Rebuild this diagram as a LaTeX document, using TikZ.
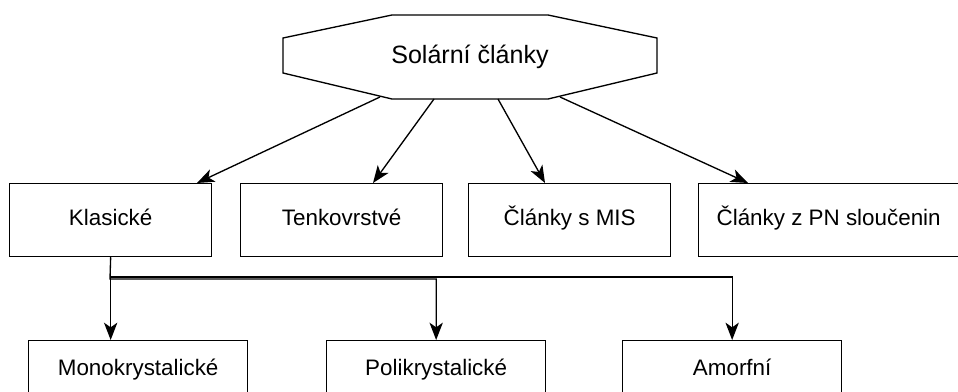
\documentclass[tikz,border=0pt]{standalone}
\usepackage{fontspec}
\setmainfont{Liberation Sans}
\usetikzlibrary{arrows.meta,calc}
\begin{document}
\begin{tikzpicture}[x=0.75pt,y=-0.75pt,
  line width=1pt,
  txt/.style={font=\fontsize{16.8}{20}\selectfont,text height=12pt,text depth=3.6pt},
  box/.style={draw,line width=1pt,minimum width=202*0.75pt,minimum height=73*0.75pt,inner sep=0pt,anchor=north west,txt},
  lbox/.style={draw,line width=1pt,minimum width=219*0.75pt,minimum height=58*0.75pt,inner sep=0pt,anchor=north west,txt},
  arr/.style={-{Stealth[length=13pt,width=10pt,inset=3.5pt]}},
]
\useasboundingbox (0,0) rectangle (958,392);
% octagon
\draw (283,38) -- (392,15) -- (548,15) -- (657,38) -- (657,73) -- (548,99) -- (392,99) -- (283,73) -- cycle;
\node[font=\fontsize{18.8}{22}\selectfont] (sol) at (470,57) {Solární články};
\coordinate (o1) at (380,97);
\coordinate (o2) at (434,99);
\coordinate (o3) at (498,99);
\coordinate (o4) at (560,97);
% row 2
\node[box] (kl) at (9,183) {Klasické};
\node[box] (te) at (240,183) {Tenkovrstvé};
\node[box] (mis) at (468,183) {Články s MIS};
\node[box,minimum width=260*0.75pt] (pn) at (698,183) {Články z PN sloučenin};
% row 3
\node[lbox] (mono) at (28,340) {Monokrystalické};
\node[lbox] (poly) at (326,340) {Polikrystalické};
\node[lbox] (amo) at (622,340) {Amorfní};
% arrows from octagon
\coordinate (t1) at (197,183);
\coordinate (t2) at (373,183);
\coordinate (t3) at (545,183);
\coordinate (t4) at (748,183);
\draw[arr] (o1) -- (t1);
\draw[arr] (o2) -- (t2);
\draw[arr] (o3) -- (t3);
\draw[arr] (o4) -- (t4);
% tree
\coordinate (b1) at (110,277);
\coordinate (b2) at (110,279);
\draw[arr] (kl.south) -- (mono.north -| kl.south);
\draw[arr] (kl.south) -- (b2) -| (poly.north);
\draw[arr] (b1) -| (amo.north);
\end{tikzpicture}
\end{document}
